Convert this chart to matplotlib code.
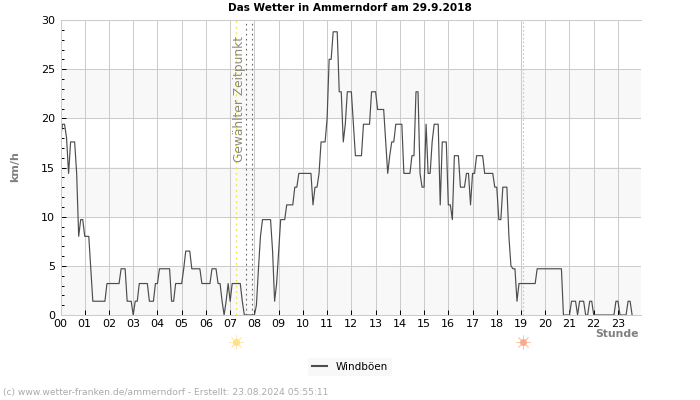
import numpy as np
import matplotlib
matplotlib.use("Agg")
import matplotlib.pyplot as plt

# Windboeen in km/h, one row per hour, 5 minute samples
h00 = [18, 19.4, 19.4, 18, 14.4, 17.6, 17.6, 17.6, 14.4, 8, 9.7, 9.7]
h01 = [8, 8, 8, 4.7, 1.4, 1.4, 1.4, 1.4, 1.4, 1.4, 1.4, 3.2]
h02 = [3.2, 3.2, 3.2, 3.2, 3.2, 3.2, 4.7, 4.7, 4.7, 1.4, 1.4, 1.4]
h03 = [0, 1.4, 1.4, 3.2, 3.2, 3.2, 3.2, 3.2, 1.4, 1.4, 1.4, 3.2]
h04 = [3.2, 4.7, 4.7, 4.7, 4.7, 4.7, 4.7, 1.4, 1.4, 3.2, 3.2, 3.2]
h05 = [3.2, 4.7, 6.5, 6.5, 6.5, 4.7, 4.7, 4.7, 4.7, 4.7, 3.2, 3.2]
h06 = [3.2, 3.2, 3.2, 4.7, 4.7, 4.7, 3.2, 3.2, 1.4, 0, 1.4, 3.2]
h07 = [1.4, 3.2, 3.2, 3.2, 3.2, 3.2, 1.4, 0, 0, 0, 0, 0]
h08 = [0, 1, 4.7, 8, 9.7, 9.7, 9.7, 9.7, 9.7, 6.5, 1.4, 3.2]
h09 = [6.5, 9.7, 9.7, 9.7, 11.2, 11.2, 11.2, 11.2, 13, 13, 14.4, 14.4]
h10 = [14.4, 14.4, 14.4, 14.4, 14.4, 11.2, 13, 13, 14.4, 17.6, 17.6, 17.6]
h11 = [20, 26, 26, 28.8, 28.8, 28.8, 22.7, 22.7, 17.6, 19.4, 22.7, 22.7]
h12 = [22.7, 19.4, 16.2, 16.2, 16.2, 16.2, 19.4, 19.4, 19.4, 19.4, 22.7, 22.7]
h13 = [22.7, 20.9, 20.9, 20.9, 20.9, 17.6, 14.4, 16.2, 17.6, 17.6, 19.4, 19.4]
h14 = [19.4, 19.4, 14.4, 14.4, 14.4, 14.4, 16.2, 16.2, 22.7, 22.7, 14.4, 13]
h15 = [13, 19.4, 14.4, 14.4, 17.6, 19.4, 19.4, 19.4, 11.2, 17.6, 17.6, 17.6]
h16 = [11.2, 11.2, 9.7, 16.2, 16.2, 16.2, 13, 13, 13, 14.4, 14.4, 11.2]
h17 = [14.4, 14.4, 16.2, 16.2, 16.2, 16.2, 14.4, 14.4, 14.4, 14.4, 14.4, 13]
h18 = [13, 9.7, 9.7, 13, 13, 13, 8, 5, 4.7, 4.7, 1.4, 3.2]
h19 = [3.2, 3.2, 3.2, 3.2, 3.2, 3.2, 3.2, 3.2, 4.7, 4.7, 4.7, 4.7]
h20 = [4.7, 4.7, 4.7, 4.7, 4.7, 4.7, 4.7, 4.7, 4.7, 0, 0, 0]
h21 = [0, 1.4, 1.4, 1.4, 0, 1.4, 1.4, 1.4, 0, 0, 1.4, 1.4]
h22 = [0, 0, 0, 0, 0, 0, 0, 0, 0, 0, 0, 1.4]
h23 = [1.4, 0, 0, 0, 0, 1.4, 1.4, 0]

hours = [h00, h01, h02, h03, h04, h05, h06, h07, h08, h09, h10, h11,
         h12, h13, h14, h15, h16, h17, h18, h19, h20, h21, h22, h23]
gusts = np.concatenate(hours)
times = np.arange(len(gusts)) / 12

hour_labels = ["%02d" % h for h in range(24)]
bands = [(0, 5), (10, 15), (20, 25)]
chosen_time = 7.25
marker_times = [7.67, 7.92]
sunrise = 7.25
sunset = 19.08

fig = plt.figure(figsize=(7, 4), dpi=100)
ax = fig.add_axes([60.5 / 700, 1 - 315 / 400, 580.5 / 700, 295 / 400])
ax.set_xlim(0, 23.95)
ax.set_ylim(0, 30)

for lo, hi in bands:
    ax.axhspan(lo, hi, color="#f8f8f8", lw=0, zorder=0)

ax.set_xticks(range(24))
ax.set_xticklabels(hour_labels, fontsize=8)
ax.set_yticks(range(0, 31, 5))
ax.set_yticks(range(0, 31), minor=True)
ax.tick_params(axis="y", labelsize=8, direction="in", length=3.6, width=0.7, pad=4)
ax.tick_params(axis="y", which="minor", direction="in", length=2, width=0.7)
ax.tick_params(axis="x", direction="in", length=3.6, width=0.7, pad=3)
ax.grid(True, which="major", color="#cccccc", lw=0.75, zorder=1)
ax.set_axisbelow(True)

for name in ["top", "left", "bottom"]:
    ax.spines[name].set_color("#cccccc")
    ax.spines[name].set_linewidth(0.75)
    ax.spines[name].set_zorder(5)
ax.spines["right"].set_visible(False)

ax.plot(times, gusts, color="#4d4d4d", lw=0.85, label="Windböen", zorder=3)

ax.axvline(chosen_time, color="#f5e642", ls=(0, (1.5, 3)), lw=0.9, zorder=2)
for t in marker_times:
    ax.axvline(t, color="#666666", ls=(0, (1.5, 3)), lw=0.8, zorder=2)
ax.axvline(sunset, color="#f5bd70", ls=(0, (1.5, 2)), lw=0.8, zorder=2)

ax.text(7.4, 15.6, "Gewählter Zeitpunkt", rotation=90, color="#8c8c7c",
        fontsize=8.8, ha="center", va="bottom")

# sun symbols below the axis
trans = ax.get_xaxis_transform()
for t, col in [(sunrise, "#fde08a"), (sunset, "#fda98a")]:
    ax.plot([t], [-0.09], marker="o", ms=5, color=col, mew=0, transform=trans, clip_on=False)
    ax.plot([t], [-0.09], marker=(8, 2, 0), ms=10, color=col, mew=0.6, alpha=0.7,
            transform=trans, clip_on=False)

fig.text(350 / 700, 1 - 8 / 400, "Das Wetter in Ammerndorf am 29.9.2018", fontsize=7.6,
         fontweight="bold", ha="center", va="center")
fig.text(15 / 700, 1 - 167 / 400, "km/h", fontsize=8, fontweight="bold", color="#808080",
         rotation=90, ha="center", va="center")
fig.text(639 / 700, 1 - 334 / 400, "Stunde", fontsize=7.8, fontweight="bold", color="#808080",
         ha="right", va="center")
fig.text(3 / 700, 1 - 393 / 400, "(c) www.wetter-franken.de/ammerndorf - Erstellt: 23.08.2024 05:55:11",
         fontsize=6.6, color="#aaaaaa", ha="left", va="center")

leg = fig.legend(loc="center", bbox_to_anchor=(350 / 700, 1 - 367 / 400), fontsize=7.5, frameon=True,
                 facecolor="#f8f8f8", edgecolor="none", fancybox=False, framealpha=1, handlelength=1.4)
leg.get_lines()[0].set_linewidth(1.5)

fig.savefig("out.png", dpi=100)
